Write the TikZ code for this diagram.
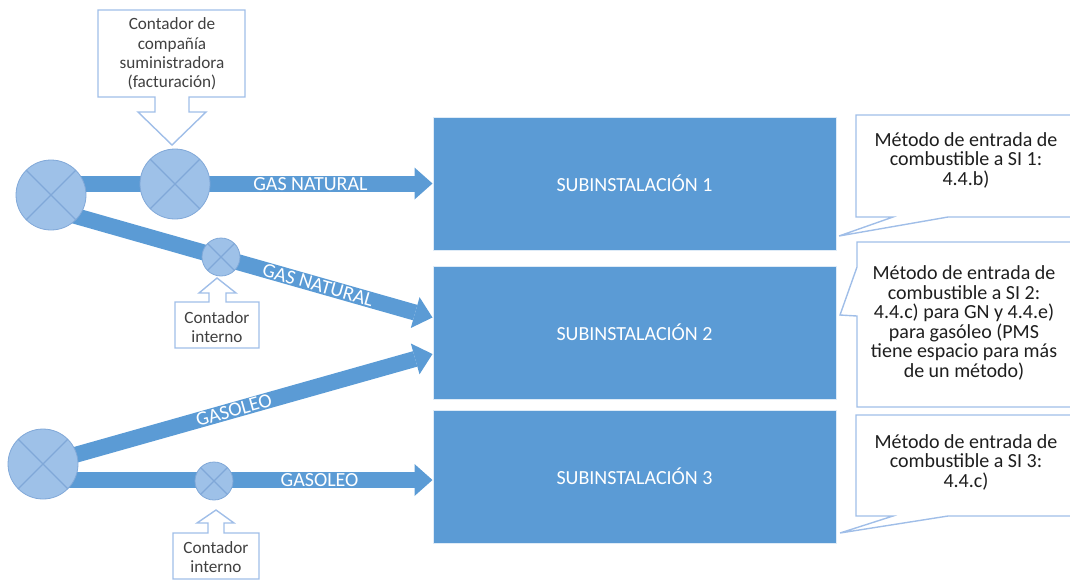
\documentclass[tikz,border=0pt]{standalone}
\usepackage{fontspec}
\setmainfont{Carlito}
\usetikzlibrary{calc,arrows.meta}
\definecolor{pipeblue}{RGB}{91,155,213}
\definecolor{meterfill}{RGB}{158,193,232}
\definecolor{meterline}{RGB}{128,168,216}
\definecolor{noteline}{RGB}{160,190,232}
\definecolor{notetext}{RGB}{30,30,30}
\definecolor{tagtext}{RGB}{64,64,64}
\pgfdeclarelayer{background}
\pgfsetlayers{background,main}
\tikzset{
	pipe/.style={line width=8pt, draw=pipeblue, -{Triangle[length=9pt,width=16pt,line width=0pt]}},
	pipelabel/.style={sloped, text=white, font=\fontsize{10}{12}\selectfont, inner sep=0pt, text height=6.5pt, text depth=0pt},
	meter/.style={circle, fill=meterfill, draw=meterline, line width=0.4pt, inner sep=0pt,
		path picture={\draw[meterline, line width=0.6pt] (path picture bounding box.north west) -- (path picture bounding box.south east) (path picture bounding box.north east) -- (path picture bounding box.south west);}},
	subinst/.style={rectangle, fill=pipeblue, draw=white!80!pipeblue, line width=0.5pt, minimum width=201.5pt, minimum height=66.5pt, inner sep=0pt, text=white, font=\fontsize{10}{12}\selectfont},
	note/.style={align=center, text=notetext, font=\fontsize{10}{9.75}\selectfont, inner sep=0pt},
	tag/.style={align=center, text=tagtext, font=\fontsize{8.6}{9.7}\selectfont, inner sep=0pt},
	outline/.style={draw=noteline, line width=0.7pt, line join=miter}
}

\begin{document}
\begin{tikzpicture}[x=0.5pt,y=-0.5pt]
				\useasboundingbox (0,0) rectangle (1070,580);
				\clip (0,0) rectangle (1070,580);
				
				\node[subinst] (si1) at (634.5,183.5) {SUBINSTALACIÓN 1};
				\node[subinst] (si2) at (634.5,332.5) {SUBINSTALACIÓN 2};
				\node[subinst] (si3) at (634.5,476.5) {SUBINSTALACIÓN 3};
				
				\node[meter, minimum size=35pt] (gn) at (51,195) {};
				\node[meter, minimum size=35pt] (fact) at (175,184) {};
				\node[meter, minimum size=19pt] (int1) at (221,257) {};
				\node[meter, minimum size=35pt] (go) at (43,464) {};
				\node[meter, minimum size=19pt] (int2) at (214,481) {};
				
				\coordinate (gnlow) at ($(gn.center)+(0,14)$);
				\coordinate (tip2) at ($(si2.west)+(0,-15)$);
				\coordinate (tip3) at ($(si2.west)+(0,21.5)$);
				\coordinate (tip4) at ($(si3.west)+(0,3.5)$);
				
				\begin{pgfonlayer}{background}
					\draw[pipe] (gn.center |- si1.west) -- (si1.west) node[pipelabel, pos=0.68] {GAS NATURAL};
					\draw[pipe] (gnlow) -- (tip2) node[pipelabel, pos=0.70] {GAS NATURAL};
					\draw[pipe] (go.center) -- (tip3) node[pipelabel, pos=0.49] {GASOLEO};
					\draw[pipe] (go.center |- tip4) -- (tip4) node[pipelabel, pos=0.71] {GASOLEO};
				\end{pgfonlayer}
				
				\draw[outline] (98,10) -- (245,10) -- (245,97) -- (189,97) -- (189,112) -- (206,112) -- (172,145) -- (138,112) -- (155,112) -- (155,97) -- (98,97) -- cycle;
				\node[tag] (billing) at (172,54) {Contador de\\compañía\\suministradora\\(facturación)};
				
				\draw[outline] (175,348) -- (175,302) -- (209,302) -- (209,293) -- (199,293) -- (217,278) -- (236,293) -- (226,293) -- (226,302) -- (259,302) -- (259,348) -- cycle;
				\node[tag] (tagint1) at (217,327) {Contador\\interno};
				
				\draw[outline] (173,579) -- (173,533) -- (208,533) -- (208,523) -- (197,523) -- (216,510) -- (234,523) -- (224,523) -- (224,533) -- (259,533) -- (259,579) -- cycle;
				\node[tag] (tagint2) at (216,557) {Contador\\interno};
				
				\draw[outline] (856,115) -- (1080,115) -- (1080,217) -- (948,217) -- (839,236) -- (893,217) -- (856,217) -- cycle;
				\node[note] (n1) at (966,160) {Método de entrada de\\combustible a SI 1:\\4.4.b)};
				
				\draw[outline] (857,242) -- (1080,242) -- (1080,407) -- (857,407) -- (857,316) -- (840,315) -- (857,267) -- cycle;
				\node[note] (n2) at (964,323) {Método de entrada de\\combustible a SI 2:\\4.4.c) para GN y 4.4.e)\\para gasóleo (PMS\\tiene espacio para más\\de un método)};
				
				\draw[outline] (856,415) -- (1080,415) -- (1080,516) -- (948,516) -- (840,533) -- (893,516) -- (856,516) -- cycle;
				\node[note] (n3) at (966,462) {Método de entrada de\\combustible a SI 3:\\4.4.c)};
\end{tikzpicture}
\end{document}
